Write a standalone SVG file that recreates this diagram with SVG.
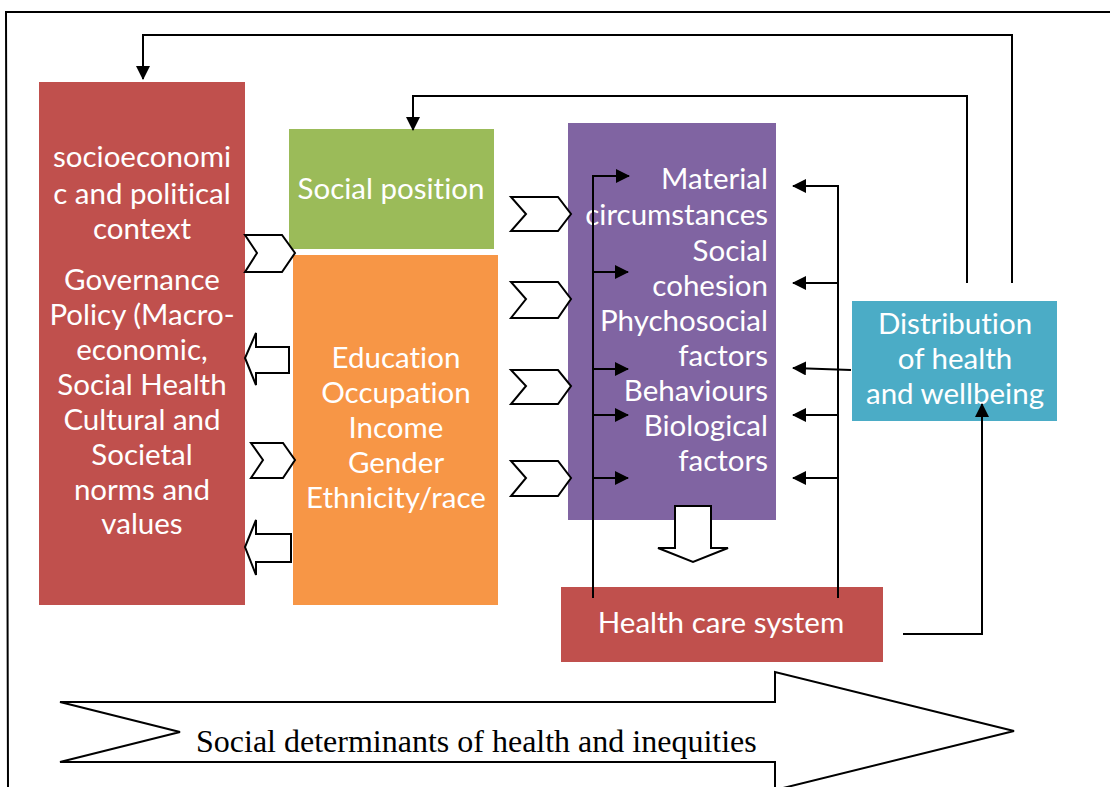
<svg xmlns="http://www.w3.org/2000/svg" width="1110" height="787" viewBox="0 0 1110 787">
<style>
.box text{font-family:Lato,"Liberation Sans",sans-serif;font-size:29.5px;fill:#ffffff;font-variant-ligatures:none;font-feature-settings:"liga" 0}
.c{text-anchor:middle}
.r{text-anchor:end}
.ln{fill:none;stroke:#000;stroke-width:2}
.shape{fill:#fff;stroke:#000;stroke-width:2;stroke-linejoin:miter}
.lbl{font-family:"Liberation Serif","Times New Roman",serif;font-size:32px;fill:#000}
</style>
<defs>
<marker id="ah" markerWidth="14" markerHeight="14" viewBox="0 0 14 14" refX="13" refY="7" orient="auto" markerUnits="userSpaceOnUse">
<path d="M0,0 L14,7 L0,14 Z" fill="#000"/>
</marker>
</defs>
<rect width="1110" height="787" fill="#fff"/>
<g id="frame">
<path class="ln" d="M1110,12 L6,12 L8,787"/>
</g>
<g id="big-arrow">
<polygon class="shape" points="60,702 775,702 775,672 1014,731 775,790 775,762 60,762 180,732"/>
<text class="lbl" x="196" y="752">Social determinants of health and inequities</text>
</g>
<g id="socioeconomic" class="box">
<rect x="39" y="82" width="206" height="523" fill="#C0504D"/>
<text class="c" x="142" y="167">socioeconomi</text>
<text class="c" x="142" y="204">c and political</text>
<text class="c" x="142" y="239">context</text>
<text class="c" x="142" y="290">Governance</text>
<text class="c" x="142" y="325">Policy (Macro-</text>
<text class="c" x="142" y="360">economic,</text>
<text class="c" x="142" y="395">Social Health</text>
<text class="c" x="142" y="430">Cultural and</text>
<text class="c" x="142" y="465">Societal</text>
<text class="c" x="142" y="500">norms and</text>
<text class="c" x="142" y="534">values</text>
</g>
<g id="social-position" class="box">
<rect x="289" y="129" width="205" height="120" fill="#9BBB59"/>
<text class="c" x="391" y="199">Social position</text>
</g>
<g id="education" class="box">
<rect x="293" y="255" width="205" height="350" fill="#F79646"/>
<text class="c" x="396" y="368">Education</text>
<text class="c" x="396" y="403">Occupation</text>
<text class="c" x="396" y="438">Income</text>
<text class="c" x="396" y="473">Gender</text>
<text class="c" x="396" y="508">Ethnicity/race</text>
</g>
<g id="intermediary" class="box">
<rect x="568" y="123" width="208" height="397" fill="#8064A2"/>
<text class="r" x="768" y="189">Material</text>
<text class="r" x="768" y="225">circumstances</text>
<text class="r" x="768" y="261">Social</text>
<text class="r" x="768" y="296">cohesion</text>
<text class="r" x="768" y="331">Phychosocial</text>
<text class="r" x="768" y="366">factors</text>
<text class="r" x="768" y="401">Behaviours</text>
<text class="r" x="768" y="436">Biological</text>
<text class="r" x="768" y="471">factors</text>
</g>
<g id="distribution" class="box">
<rect x="852" y="301" width="205" height="120" fill="#4BACC6"/>
<text class="c" x="955" y="334">Distribution</text>
<text class="c" x="955" y="369">of health</text>
<text class="c" x="955" y="404">and wellbeing</text>
</g>
<g id="health-care" class="box">
<rect x="561" y="587" width="322" height="75" fill="#C0504D"/>
<text class="c" x="721" y="633">Health care system</text>
</g>
<g id="connectors">
<polygon class="shape" points="245,235 282,235 295,253 282,272 245,272 257,253"/>
<polygon class="shape" points="251,443 283,443 295,460 283,478 251,478 263,460"/>
<polygon class="shape" points="289,347 256,347 256,333 245,358 256,385 256,373 289,373"/>
<polygon class="shape" points="291,534 256,534 256,520 245,547 256,575 256,562 291,562"/>
<polygon class="shape" points="511,197 558,197 571,214 558,231 511,231 526,214"/>
<polygon class="shape" points="511,282 558,282 571,299 558,318 511,318 526,299"/>
<polygon class="shape" points="511,370 558,370 571,386 558,404 511,404 526,386"/>
<polygon class="shape" points="511,461 558,461 571,478 558,496 511,496 526,478"/>
<polygon class="shape" points="675,506 711,506 711,548 728,548 693,562 658,548 675,548"/>
<path class="ln" d="M593,598 L593,176 L629,176" marker-end="url(#ah)"/>
<path class="ln" d="M593,272 L628,272" marker-end="url(#ah)"/>
<path class="ln" d="M593,369 L628,369" marker-end="url(#ah)"/>
<path class="ln" d="M593,415 L628,415" marker-end="url(#ah)"/>
<path class="ln" d="M593,478 L628,478" marker-end="url(#ah)"/>
<path class="ln" d="M838,598 L838,186 L793,186" marker-end="url(#ah)"/>
<path class="ln" d="M838,283 L793,283" marker-end="url(#ah)"/>
<path class="ln" d="M851,370 L793,368" marker-end="url(#ah)"/>
<path class="ln" d="M838,415 L793,415" marker-end="url(#ah)"/>
<path class="ln" d="M838,478 L793,478" marker-end="url(#ah)"/>
<path class="ln" d="M903,634 L982,634 L982,404" marker-end="url(#ah)"/>
<path class="ln" d="M1012,283 L1012,35 L143,35 L143,79" marker-end="url(#ah)"/>
<path class="ln" d="M967,283 L967,96 L413,96 L413,130" marker-end="url(#ah)"/>
</g>
</svg>
